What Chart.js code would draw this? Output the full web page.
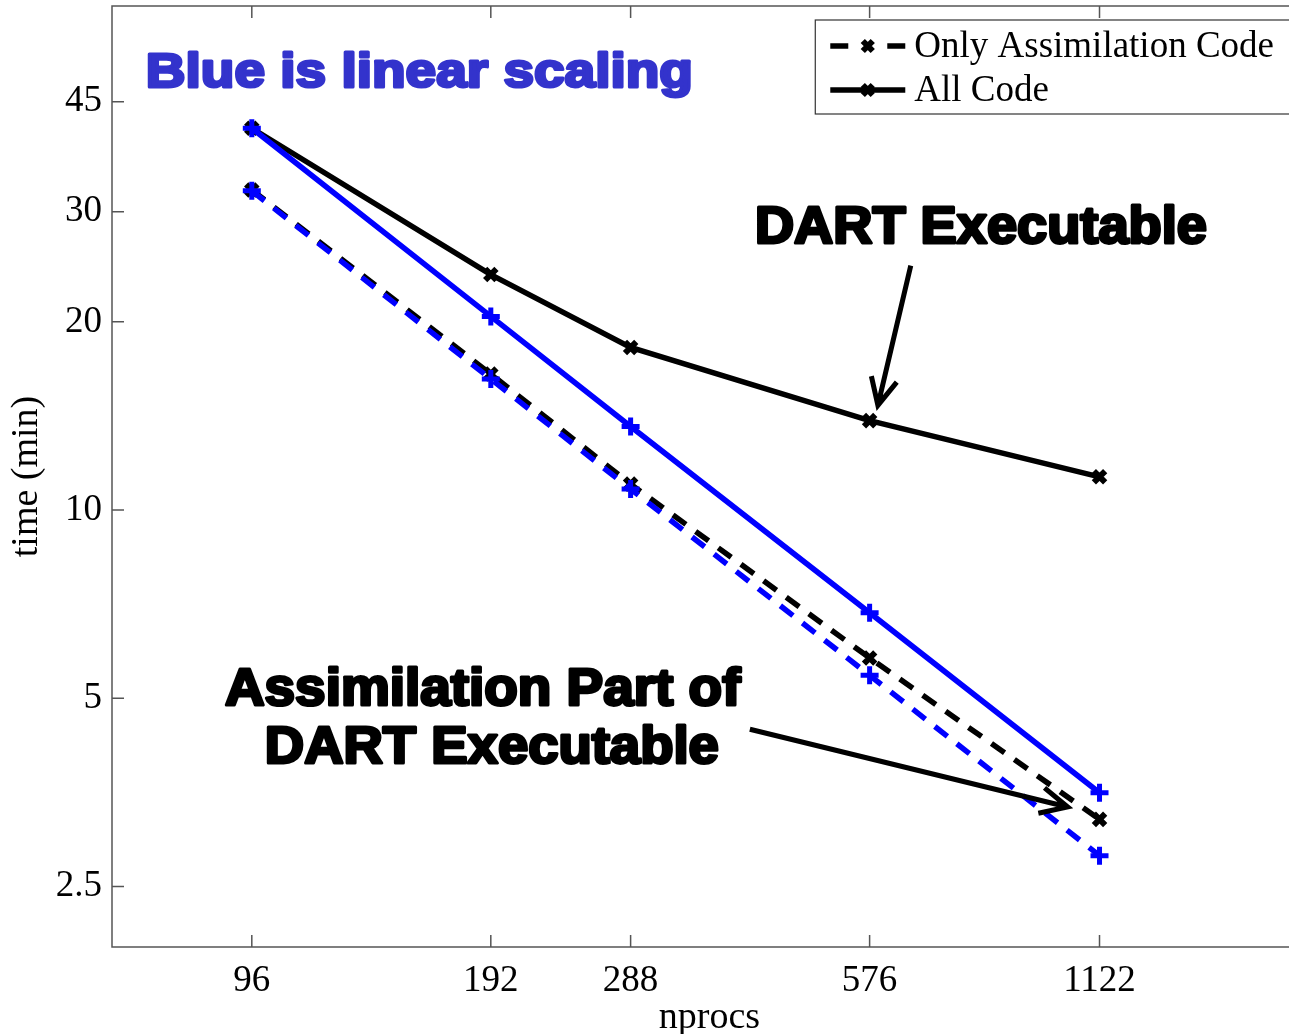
<!DOCTYPE html>
<html>
<head>
<meta charset="utf-8">
<script src="https://cdn.jsdelivr.net/npm/chart.js@4.4.0/dist/chart.umd.min.js"></script>
<style>
  html, body { margin: 0; padding: 0; background: #fff; overflow: hidden; }
  #wrap { width: 1320px; height: 1034px; }
</style>
</head>
<body>
<div id="wrap"><canvas id="myChart"></canvas></div>
<script>
// values (log-log axes)
const nprocs = [96, 192, 288, 576, 1122];
const allCode = [40.8, 23.8, 18.2, 13.9, 11.3];
const assimOnly = [32.5, 16.5, 11.0, 5.8, 3.2];
const allCodeLinear = [40.8, 20.4, 13.6, 6.85, 3.53];
const assimLinear = [32.4, 16.2, 10.8, 5.44, 2.8];

const xTicks = [96, 192, 288, 576, 1122];
const yTicks = [2.5, 5, 10, 20, 30, 45];

const serif = '"Liberation Serif", "Times New Roman", serif';
const axisColor = '#555';

function toPoints(ys) {
  return nprocs.map((x, i) => ({ x: x, y: ys[i] }));
}

// text / arrows placed in data coordinates
const labels = [
  { text: 'Blue is linear scaling', color: '#3333cc', x0: 70.6, x1: 345, y: 47.5, size: 49 },
  { text: 'DART Executable', color: '#000', x0: 413, x1: 1532, y: 26.7, size: 51 },
  { text: 'Assimilation Part of', color: '#000', x0: 88.8, x1: 396, y: 4.87, size: 51 },
  { text: 'DART Executable', color: '#000', x0: 99.7, x1: 372, y: 3.94, size: 51 },
];
const arrows = [
  { from: [649, 24.6], to: [590, 14.7] },
  { from: [407, 4.46], to: [1023, 3.35] },
];

const frame = {
  id: 'frame',
  beforeDatasetsDraw(chart) {
    const { ctx, chartArea: a, scales } = chart;
    ctx.save();
    ctx.strokeStyle = axisColor;
    ctx.lineWidth = 1.5;
    ctx.strokeRect(a.left, a.top, a.right - a.left, a.bottom - a.top);
    ctx.beginPath();
    xTicks.forEach(v => {
      const px = scales.x.getPixelForValue(v);
      ctx.moveTo(px, a.bottom); ctx.lineTo(px, a.bottom - 12);
      ctx.moveTo(px, a.top); ctx.lineTo(px, a.top + 12);
    });
    yTicks.forEach(v => {
      const py = scales.y.getPixelForValue(v);
      ctx.moveTo(a.left, py); ctx.lineTo(a.left + 12, py);
      ctx.moveTo(a.right, py); ctx.lineTo(a.right - 12, py);
    });
    ctx.stroke();
    ctx.restore();
  },
  afterDraw(chart) {
    const { ctx, chartArea: a, scales } = chart;
    const sx = scales.x, sy = scales.y;
    ctx.save();
    // annotations
    labels.forEach(l => {
      const left = sx.getPixelForValue(l.x0);
      const right = sx.getPixelForValue(l.x1);
      const base = sy.getPixelForValue(l.y);
      ctx.font = 'bold ' + l.size + 'px "Liberation Sans", Arial, sans-serif';
      const w = ctx.measureText(l.text).width;
      ctx.save();
      ctx.translate(left, base);
      ctx.scale((right - left) / w, 1);
      ctx.fillStyle = l.color;
      ctx.strokeStyle = l.color;
      ctx.lineWidth = 3;
      ctx.lineJoin = 'round';
      ctx.textBaseline = 'alphabetic';
      ctx.fillText(l.text, 0, 0);
      ctx.strokeText(l.text, 0, 0);
      ctx.restore();
    });
    arrows.forEach(ar => {
      const x0 = sx.getPixelForValue(ar.from[0]), y0 = sy.getPixelForValue(ar.from[1]);
      const x1 = sx.getPixelForValue(ar.to[0]), y1 = sy.getPixelForValue(ar.to[1]);
      const ang = Math.atan2(y1 - y0, x1 - x0);
      ctx.strokeStyle = '#000';
      ctx.lineWidth = 5;
      ctx.lineCap = 'butt';
      ctx.beginPath();
      ctx.moveTo(x0, y0); ctx.lineTo(x1, y1);
      ctx.moveTo(x1 - 30 * Math.cos(ang - 0.45), y1 - 30 * Math.sin(ang - 0.45));
      ctx.lineTo(x1, y1);
      ctx.lineTo(x1 - 30 * Math.cos(ang + 0.45), y1 - 30 * Math.sin(ang + 0.45));
      ctx.stroke();
    });
    // legend box (only black series)
    const entries = chart.data.datasets.filter(d => d.inLegend);
    ctx.font = '37px ' + serif;
    const tw = Math.max(...entries.map(d => ctx.measureText(d.label).width));
    const boxR = a.right - 14;
    const boxL = boxR - (15 + 75 + 9 + tw + 19);
    const boxT = a.top + 14;
    const boxH = 94;
    ctx.fillStyle = '#fff';
    ctx.fillRect(boxL, boxT, boxR - boxL, boxH);
    ctx.strokeStyle = '#333';
    ctx.lineWidth = 1.2;
    ctx.strokeRect(boxL, boxT, boxR - boxL, boxH);
    entries.forEach((d, i) => {
      const cy = boxT + 26 + i * 44;
      const lx0 = boxL + 15, lx1 = lx0 + 75, mx = (lx0 + lx1) / 2;
      ctx.strokeStyle = d.borderColor;
      ctx.lineWidth = d.borderWidth;
      ctx.beginPath();
      if (d.borderDash) {
        ctx.moveTo(lx0, cy); ctx.lineTo(lx0 + 18, cy);
        ctx.moveTo(lx1 - 18, cy); ctx.lineTo(lx1, cy);
      } else {
        ctx.moveTo(lx0, cy); ctx.lineTo(lx1, cy);
      }
      ctx.stroke();
      ctx.lineWidth = d.pointBorderWidth;
      ctx.beginPath();
      ctx.moveTo(mx - 5, cy - 5); ctx.lineTo(mx + 5, cy + 5);
      ctx.moveTo(mx + 5, cy - 5); ctx.lineTo(mx - 5, cy + 5);
      ctx.stroke();
      ctx.fillStyle = '#000';
      ctx.textBaseline = 'middle';
      ctx.textAlign = 'left';
      ctx.fillText(d.label, lx1 + 9, cy + 1);
    });
    ctx.restore();
  }
};

function noPad(s) {
  s.paddingTop = 0; s.paddingBottom = 0; s.paddingLeft = 0; s.paddingRight = 0;
}

const ctx = document.getElementById('myChart');

new Chart(ctx, {
  type: 'line',
  data: {
    datasets: [
      {
        label: 'Only Assimilation Code',
        data: toPoints(assimOnly),
        borderColor: '#000',
        borderWidth: 5.5,
        borderDash: [16, 12],
        pointStyle: 'crossRot',
        pointRadius: 8,
        pointBorderWidth: 6,
        pointBorderColor: '#000',
        inLegend: true,
        order: 2,
      },
      {
        label: 'All Code',
        data: toPoints(allCode),
        borderColor: '#000',
        borderWidth: 5.5,
        pointStyle: 'crossRot',
        pointRadius: 8,
        pointBorderWidth: 6,
        pointBorderColor: '#000',
        inLegend: true,
        order: 2,
      },
      {
        label: 'linear (assimilation)',
        data: toPoints(assimLinear),
        borderColor: '#0000ff',
        borderWidth: 5.5,
        borderDash: [16, 12],
        pointStyle: 'cross',
        pointRadius: 9,
        pointBorderWidth: 5,
        pointBorderColor: '#0000ff',
        order: 1,
      },
      {
        label: 'linear (all)',
        data: toPoints(allCodeLinear),
        borderColor: '#0000ff',
        borderWidth: 5.5,
        pointStyle: 'cross',
        pointRadius: 9,
        pointBorderWidth: 5,
        pointBorderColor: '#0000ff',
        order: 1,
      },
    ],
  },
  options: {
    responsive: true,
    maintainAspectRatio: false,
    devicePixelRatio: 1,
    animation: false,
    layout: { autoPadding: false, padding: { top: 6, right: 13, left: 0, bottom: 0 } },
    plugins: { legend: { display: false }, tooltip: { enabled: false } },
    scales: {
      x: {
        type: 'logarithmic',
        min: 64,
        max: 2048,
        afterBuildTicks: s => { s.ticks = xTicks.map(v => ({ value: v })); },
        afterFit: s => { s.height = 87; noPad(s); },
        grid: { display: false },
        border: { display: false },
        ticks: {
          font: { family: serif, size: 37 },
          color: '#000',
          padding: 4,
          maxRotation: 0,
          autoSkip: false,
          callback: v => String(v),
        },
        title: {
          display: true,
          text: 'nprocs',
          font: { family: serif, size: 38 },
          color: '#000',
          padding: { top: 0, bottom: -7 },
        },
      },
      y: {
        type: 'logarithmic',
        min: 2,
        max: 64,
        afterBuildTicks: s => { s.ticks = yTicks.map(v => ({ value: v })); },
        afterFit: s => { s.width = 112; noPad(s); },
        grid: { display: false },
        border: { display: false },
        ticks: {
          font: { family: serif, size: 37 },
          color: '#000',
          padding: 2,
          autoSkip: false,
          callback: v => String(v),
        },
        title: {
          display: true,
          text: 'time (min)',
          font: { family: serif, size: 38 },
          color: '#000',
          padding: { top: 4, bottom: 0 },
        },
      },
    },
  },
  plugins: [frame],
});
</script>
</body>
</html>
